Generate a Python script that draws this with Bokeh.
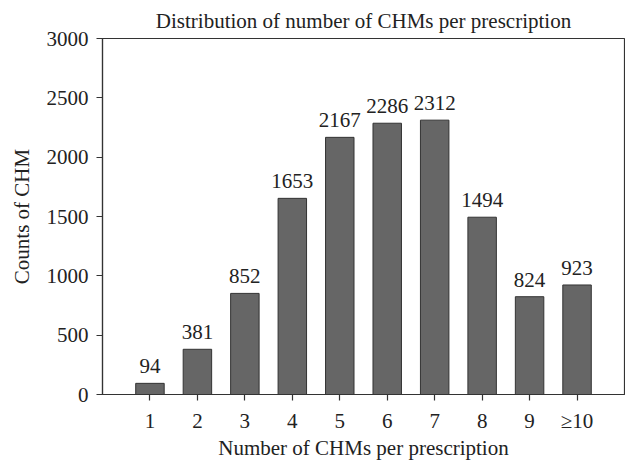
from bokeh.plotting import figure
from bokeh.models import FactorRange, Range1d, FixedTicker, ColumnDataSource
from bokeh.embed import file_html
from bokeh.resources import INLINE

categories = ["1", "2", "3", "4", "5", "6", "7", "8", "9", "≥10"]
counts = [94, 381, 852, 1653, 2167, 2286, 2312, 1494, 824, 923]
y_ticks = [0, 500, 1000, 1500, 2000, 2500, 3000]
title_text = "Distribution of number of CHMs per prescription"

FONT = "Liberation Serif"
TXT = "#222222"
FS = "21px"

src = ColumnDataSource(dict(cat=categories, val=counts, lab=[str(v) for v in counts]))

p = figure(
    x_range=FactorRange(*categories, range_padding=0.1, range_padding_units="percent"),
    y_range=Range1d(0, 3000),
    frame_width=522, frame_height=356,
    min_border_left=102, min_border_right=1, min_border_top=38, min_border_bottom=62,
    output_backend="svg", toolbar_location=None,
    title=title_text,
)
p.title.align = "center"
p.title.text_font = FONT
p.title.text_font_size = FS
p.title.text_font_style = "normal"
p.title.text_color = TXT
p.title.standoff = 12

p.vbar(x="cat", top="val", width=0.6, source=src,
       fill_color="#666666", line_color="#333333", line_width=1)
p.text(x="cat", y="val", text="lab", source=src,
       text_align="center", text_baseline="bottom", y_offset=-10,
       text_font={"value": FONT}, text_font_size={"value": FS}, text_color=TXT)

p.xgrid.visible = False
p.ygrid.visible = False
p.outline_line_color = "#333333"
p.outline_line_width = 1.2

for ax in (p.xaxis[0], p.yaxis[0]):
    ax.axis_line_color = "#333333"
    ax.axis_line_width = 1.2
    ax.major_tick_line_color = "#333333"
    ax.major_tick_line_width = 1.2
    ax.major_tick_in = 0
    ax.major_tick_out = 6
    ax.minor_tick_line_color = None
    ax.major_label_text_font = FONT
    ax.major_label_text_font_size = FS
    ax.major_label_text_color = TXT
    ax.axis_label_text_font = FONT
    ax.axis_label_text_font_size = FS
    ax.axis_label_text_font_style = "normal"
    ax.axis_label_text_color = TXT

p.yaxis.ticker = FixedTicker(ticks=y_ticks)
p.yaxis.axis_label = "Counts of CHM"
p.xaxis.axis_label = "Number of CHMs per prescription"
p.xaxis.major_label_standoff = 8
p.yaxis.major_label_standoff = 8
p.yaxis.axis_label_standoff = 10
p.xaxis.axis_label_standoff = 0

open("out.html", "w").write(file_html(p, INLINE))
